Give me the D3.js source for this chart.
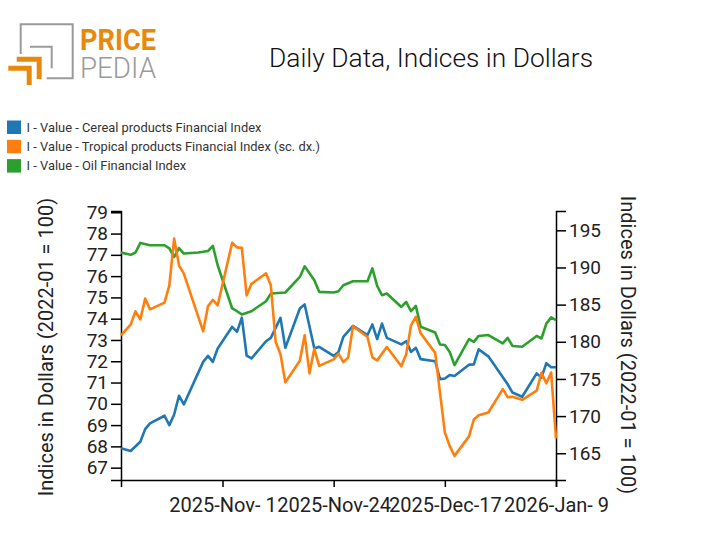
<!DOCTYPE html>
<html>
<head>
<meta charset="utf-8">
<script src="https://cdn.jsdelivr.net/npm/d3@7"></script>
<style>
  body { margin: 0; background: #fff; }
  text { font-family: Roboto, "Noto Sans", sans-serif; }
</style>
</head>
<body>
<div id="VizBox"></div>
<script>
// series names
var seriesNames = [
  "I - Value - Cereal products Financial Index",
  "I - Value - Tropical products Financial Index (sc. dx.)",
  "I - Value - Oil Financial Index"
];
var colors = ["#1f77b4", "#ff7f0e", "#2ca02c"];

// Cereal (left axis)
var cerealDates = ["2025-10-11","2025-10-13","2025-10-15","2025-10-16","2025-10-17","2025-10-20","2025-10-21","2025-10-22","2025-10-23","2025-10-24",
  "2025-10-28","2025-10-29","2025-10-30","2025-10-31","2025-11-03","2025-11-04","2025-11-05","2025-11-06","2025-11-07","2025-11-10",
  "2025-11-11","2025-11-13","2025-11-14","2025-11-17","2025-11-18","2025-11-20","2025-11-21","2025-11-24","2025-11-25","2025-11-26",
  "2025-11-28","2025-12-01","2025-12-02","2025-12-03","2025-12-04","2025-12-05","2025-12-08","2025-12-09","2025-12-10","2025-12-11",
  "2025-12-12","2025-12-15","2025-12-16","2025-12-17","2025-12-18","2025-12-19","2025-12-22","2025-12-23","2025-12-24","2025-12-26",
  "2025-12-30","2025-12-31","2026-01-02","2026-01-05","2026-01-06","2026-01-07","2026-01-08","2026-01-09"];
var cerealValues = [67.91,67.78,68.22,68.81,69.08,69.44,69.0,69.5,70.38,69.97,
  71.97,72.25,71.97,72.6,73.62,73.38,74.05,72.26,72.13,72.94,
  73.1,74.04,72.63,74.48,74.67,72.6,72.68,72.25,72.44,73.15,
  73.66,73.23,73.73,73.04,73.77,73.1,72.79,72.94,72.44,72.63,
  72.1,72.0,71.16,71.19,71.35,71.31,71.84,71.85,72.56,72.23,
  70.92,70.53,70.33,71.43,71.23,71.91,71.72,71.72];

// Tropical (right axis)
var tropicalDates = ["2025-10-11","2025-10-13","2025-10-14","2025-10-15","2025-10-16","2025-10-17","2025-10-20","2025-10-21","2025-10-22","2025-10-23",
  "2025-10-24","2025-10-28","2025-10-29","2025-10-30","2025-10-31","2025-11-03","2025-11-04","2025-11-05","2025-11-06","2025-11-07",
  "2025-11-10","2025-11-11","2025-11-12","2025-11-13","2025-11-14","2025-11-17","2025-11-18","2025-11-19","2025-11-20","2025-11-21",
  "2025-11-24","2025-11-25","2025-11-26","2025-11-27","2025-11-28","2025-12-01","2025-12-02","2025-12-03","2025-12-05","2025-12-08",
  "2025-12-09","2025-12-10","2025-12-11","2025-12-12","2025-12-15","2025-12-17","2025-12-18","2025-12-19","2025-12-22","2025-12-23",
  "2025-12-24","2025-12-26","2025-12-29","2025-12-30","2025-12-31","2026-01-02","2026-01-05","2026-01-06","2026-01-07","2026-01-08",
  "2026-01-09"];
var tropicalValues = [180.87,182.31,184.1,183.02,185.81,184.37,185.27,187.6,193.88,190.29,
  189.17,181.41,184.77,185.65,184.91,193.32,192.71,192.64,186.25,187.8,
  189.21,187.6,179.97,178.31,174.54,177.44,180.87,175.75,179.05,176.76,
  177.64,178.4,177.27,177.87,182.08,180.64,177.91,177.5,179.29,176.7,
  178.31,182.21,183.36,181.14,178.51,167.81,166.0,164.65,167.27,169.54,
  170.1,170.48,173.63,172.55,172.59,172.19,173.43,175.82,174.41,175.86,
  167.0];

// Oil (left axis)
var oilDates = ["2025-10-11","2025-10-13","2025-10-14","2025-10-15","2025-10-17","2025-10-20","2025-10-21","2025-10-22","2025-10-23","2025-10-24",
  "2025-10-27","2025-10-29","2025-10-30","2025-10-31","2025-11-03","2025-11-04","2025-11-05","2025-11-07","2025-11-10","2025-11-11",
  "2025-11-14","2025-11-17","2025-11-18","2025-11-19","2025-11-20","2025-11-21","2025-11-24","2025-11-25","2025-11-26","2025-11-28",
  "2025-12-01","2025-12-02","2025-12-03","2025-12-04","2025-12-05","2025-12-08","2025-12-09","2025-12-10","2025-12-11","2025-12-12",
  "2025-12-15","2025-12-16","2025-12-17","2025-12-18","2025-12-19","2025-12-22","2025-12-23","2025-12-24","2025-12-26","2025-12-29",
  "2025-12-30","2025-12-31","2026-01-02","2026-01-05","2026-01-06","2026-01-07","2026-01-08","2026-01-09"];
var oilValues = [77.11,77.0,77.11,77.56,77.45,77.45,77.3,76.9,77.32,77.06,
  77.11,77.18,77.42,76.51,74.48,74.35,74.2,74.35,74.82,75.18,
  75.23,75.96,76.46,76.14,75.81,75.26,75.23,75.29,75.57,75.76,
  75.76,76.36,75.54,75.1,75.18,74.55,74.79,74.35,74.6,73.62,
  73.35,72.79,72.76,72.44,71.82,73.04,72.91,73.19,73.23,72.84,
  73.1,72.72,72.68,73.19,73.07,73.77,74.06,73.93];

var leftTicks = [67,68,69,70,71,72,73,74,75,76,77,78,79];
var rightTicks = [165,170,175,180,185,190,195];
var xTickDates = ["2025-11-01","2025-11-24","2025-12-17","2026-01-09"];

var parse = d3.timeParse("%Y-%m-%d");
var fmt = d3.timeFormat("%Y-%b-%e");

var W = 712, H = 555;
var margin = {top: 211, right: 156, bottom: 75, left: 121};
var width = W - margin.left - margin.right;
var height = H - margin.top - margin.bottom;

var svg = d3.select("#VizBox")
  .append("svg")
    .attr("width", W)
    .attr("height", H);

// logo
var logo = svg.append("g");
logo.append("path")
  .attr("d", "M46.7,78.3 H72.7 V24.3 H20.7 V54")
  .attr("fill", "none").attr("stroke", "#9a9a9a").attr("stroke-width", 2);
logo.append("path")
  .attr("d", "M30,46.7 H51.7 V68.3")
  .attr("fill", "none").attr("stroke", "#9a9a9a").attr("stroke-width", 2);
logo.append("path")
  .attr("d", "M16.7,59.2 H39.2 V79")
  .attr("fill", "none").attr("stroke", "#e8890c").attr("stroke-width", 5);
logo.append("path")
  .attr("d", "M8.3,68.3 H29.2 V85")
  .attr("fill", "none").attr("stroke", "#e8890c").attr("stroke-width", 5);
logo.append("text")
  .attr("x", 80).attr("y", 50)
  .attr("font-size", 29).attr("font-weight", 700)
  .attr("fill", "#e8890c")
  .attr("textLength", 76).attr("lengthAdjust", "spacingAndGlyphs")
  .text("PRICE");
logo.append("text")
  .attr("x", 80).attr("y", 78)
  .attr("font-size", 30).attr("font-weight", 300)
  .attr("fill", "#9a9a9a")
  .attr("textLength", 76).attr("lengthAdjust", "spacingAndGlyphs")
  .text("PEDIA");

// title
svg.append("text")
  .attr("x", 269).attr("y", 67)
  .attr("font-size", 26).attr("font-weight", 300)
  .attr("fill", "#111")
  .attr("textLength", 324).attr("lengthAdjust", "spacingAndGlyphs")
  .text("Daily Data, Indices in Dollars");

// legend
var legend = svg.append("g");
seriesNames.forEach(function(name, i) {
  legend.append("rect")
    .attr("x", 7).attr("y", 120.5 + i * 19.3)
    .attr("width", 14).attr("height", 13.5)
    .attr("fill", colors[i]);
  legend.append("text")
    .attr("x", 26.5).attr("y", 131.5 + i * 19.3)
    .attr("font-size", 12.9)
    .attr("fill", "#333")
    .text(name);
});

var g = svg.append("g")
  .attr("transform", "translate(" + margin.left + "," + margin.top + ")");

// scales
var x = d3.scaleTime()
  .domain([parse("2025-10-11"), parse("2026-01-09")])
  .range([0, width]);
var yLeft = d3.scaleLinear()
  .domain([66.42, 79.06])
  .range([height, 0]);
var yRight = d3.scaleLinear()
  .domain([161.4, 197.6])
  .range([height, 0]);

// axes
var xAxis = g.append("g")
  .attr("transform", "translate(0," + height + ")")
  .call(d3.axisBottom(x)
    .tickValues(xTickDates.map(parse))
    .tickFormat(fmt)
    .tickSize(7).tickSizeOuter(7));
var yAxisL = g.append("g")
  .call(d3.axisLeft(yLeft).tickValues(leftTicks).tickFormat(d3.format("d")).tickSize(10).tickSizeOuter(10));
var yAxisR = g.append("g")
  .attr("transform", "translate(" + width + ",0)")
  .call(d3.axisRight(yRight).tickValues(rightTicks).tickFormat(d3.format("d")).tickSize(10).tickSizeOuter(10));

[xAxis, yAxisL, yAxisR].forEach(function(a) {
  a.selectAll("path, line").attr("stroke", "#000").attr("stroke-width", 1.5);
  a.selectAll("text").attr("font-size", 19).attr("fill", "#222")
    .style("font-family", "Roboto, sans-serif");
});
xAxis.selectAll("text").attr("font-size", 20).attr("dy", "1.1em");

// axis titles
svg.append("text")
  .attr("transform", "translate(53,347) rotate(-90)")
  .attr("text-anchor", "middle")
  .attr("font-size", 20).attr("fill", "#222")
  .text("Indices in Dollars (2022-01 = 100)");
svg.append("text")
  .attr("transform", "translate(621,345) rotate(90)")
  .attr("text-anchor", "middle")
  .attr("font-size", 20).attr("fill", "#222")
  .text("Indices in Dollars (2022-01 = 100)");

// lines
function drawLine(dates, values, scale, color) {
  var data = dates.map(function(d, i) { return {date: parse(d), value: values[i]}; });
  g.append("path")
    .datum(data)
    .attr("fill", "none")
    .attr("stroke", color)
    .attr("stroke-width", 2.6)
    .attr("stroke-linejoin", "round")
    .attr("d", d3.line()
      .x(function(d) { return x(d.date); })
      .y(function(d) { return scale(d.value); }));
}

drawLine(oilDates, oilValues, yLeft, colors[2]);
drawLine(cerealDates, cerealValues, yLeft, colors[0]);
drawLine(tropicalDates, tropicalValues, yRight, colors[1]);
</script>
</body>
</html>
